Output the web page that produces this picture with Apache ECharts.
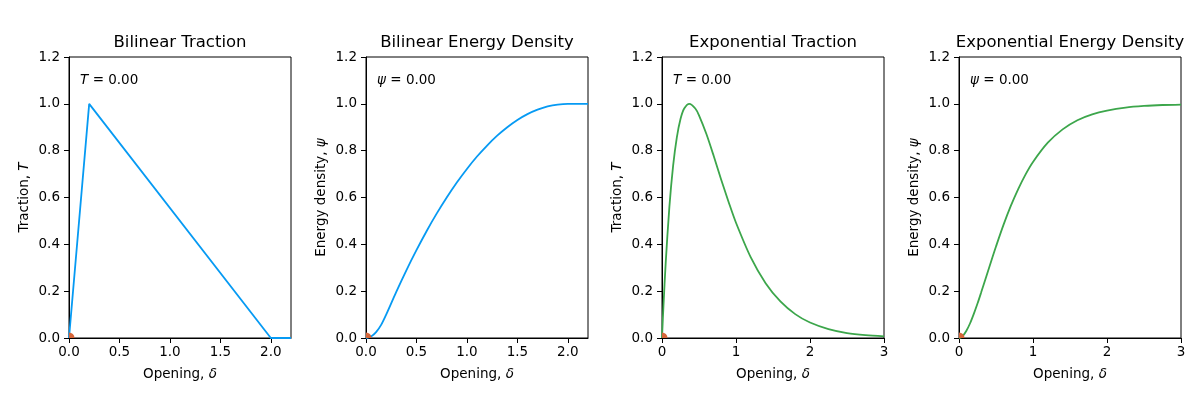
<!DOCTYPE html>
<html><head><meta charset="utf-8">
<script src="https://cdn.jsdelivr.net/npm/echarts@6/dist/echarts.min.js"></script>
<style>html,body{margin:0;padding:0;background:#fff}#c{width:1200px;height:400px}</style>
</head><body><div id="c"></div>
<script>
// ---- data ----
const bilinearDelta = [0, 0.2, 2.0, 2.2];
const bilinearTraction = [0, 1.0, 0, 0];

const bilinearEnergyDelta = [0, 0.05, 0.1, 0.15, 0.2, 0.3, 0.4, 0.5, 0.6, 0.7, 0.8, 0.9, 1.0, 1.1, 1.2, 1.3, 1.4, 1.5, 1.6, 1.7, 1.8, 1.9, 2.0, 2.2];
const bilinearEnergy = [0, 0.006, 0.025, 0.056, 0.1, 0.197, 0.289, 0.375, 0.456, 0.531, 0.6, 0.664, 0.722, 0.775, 0.822, 0.864, 0.9, 0.931, 0.956, 0.975, 0.989, 0.997, 1.0, 1.0];

const expDelta = [0, 0.02, 0.05, 0.1, 0.15, 0.2, 0.25, 0.3, 0.37, 0.45, 0.5, 0.6, 0.7, 0.8, 0.9, 1.0, 1.2, 1.4, 1.6, 1.8, 2.0, 2.25, 2.5, 2.75, 3.0];
const expTraction = [0, 0.139, 0.321, 0.561, 0.735, 0.856, 0.935, 0.980, 1.0, 0.980, 0.951, 0.871, 0.776, 0.676, 0.581, 0.492, 0.344, 0.234, 0.156, 0.102, 0.066, 0.038, 0.021, 0.012, 0.007];
const expEnergy = [0, 0.001, 0.008, 0.031, 0.063, 0.103, 0.147, 0.195, 0.264, 0.343, 0.391, 0.482, 0.564, 0.636, 0.699, 0.752, 0.834, 0.891, 0.930, 0.955, 0.971, 0.984, 0.991, 0.995, 0.997];

const currentPoint = [0, 0];
const currentValueText = "0.00";

const titles = ["Bilinear Traction", "Bilinear Energy Density", "Exponential Traction", "Exponential Energy Density"];
const yNames = ["Traction, {i|T}", "Energy density, {i|ψ}", "Traction, {i|T}", "Energy density, {i|ψ}"];
const annoSymbols = ["T", "ψ", "T", "ψ"];
const xMaxes = [2.2, 2.2, 3, 3];
const xIntervals = [0.5, 0.5, 1, 1];
const xDecimals = [1, 1, 0, 0];
const yTicksMax = 1.2;

// ---- styling / layout ----
const BLUE = '#069AF3', GREEN = '#3ca64b', DOT = '#d6663a';
const FONT = 'DejaVu Sans';
const gridLefts = [69, 366, 662, 959];
const gridW = 222, gridTop = 57, gridH = 281;

const seriesData = [
  [bilinearDelta, bilinearTraction, BLUE],
  [bilinearEnergyDelta, bilinearEnergy, BLUE],
  [expDelta, expTraction, GREEN],
  [expDelta, expEnergy, GREEN]
];

const grids = [], xAxes = [], yAxes = [], series = [], titleOpts = [], graphics = [];
for (let i = 0; i < 4; i++) {
  grids.push({left: gridLefts[i], top: gridTop, width: gridW, height: gridH, show: true,
    borderColor: '#000', borderWidth: 1, backgroundColor: '#fff', containLabel: false});
  const dec = xDecimals[i];
  xAxes.push({type: 'value', gridIndex: i, min: 0, max: xMaxes[i], interval: xIntervals[i],
    axisLine: {show: true, onZero: false, lineStyle: {color: '#000', width: 1}},
    axisTick: {show: true, inside: false, length: 5, lineStyle: {color: '#000'}},
    splitLine: {show: false},
    axisLabel: {showMaxLabel: xMaxes[i] % xIntervals[i] === 0, margin: 7, color: '#000', fontFamily: FONT, fontSize: 13.5,
      formatter: v => v.toFixed(dec)},
    name: 'Opening, {i|δ}', nameLocation: 'middle', nameGap: 29,
    nameTextStyle: {color: '#000', fontFamily: FONT, fontSize: 13.5,
      rich: {i: {fontStyle: 'italic', fontFamily: FONT, fontSize: 13.5, color: '#000'}}}
  });
  yAxes.push({type: 'value', gridIndex: i, min: 0, max: yTicksMax, interval: 0.2,
    axisLine: {show: true, onZero: false, lineStyle: {color: '#000', width: 1}},
    axisTick: {show: true, inside: false, length: 5, lineStyle: {color: '#000'}},
    splitLine: {show: false},
    axisLabel: {margin: 9, color: '#000', fontFamily: FONT, fontSize: 13.5, formatter: v => v.toFixed(1)},
    name: yNames[i], nameLocation: 'middle', nameGap: 38, nameRotate: 90,
    nameTextStyle: {color: '#000', fontFamily: FONT, fontSize: 13.5,
      rich: {i: {fontStyle: 'italic', fontFamily: FONT, fontSize: 13.5, color: '#000'}}}
  });
  const [xs, ys, col] = seriesData[i];
  series.push({type: 'line', xAxisIndex: i, yAxisIndex: i, data: xs.map((x, k) => [x, ys[k]]),
    showSymbol: false, smooth: (i === 0 ? false : 0.3), lineStyle: {color: col, width: 1.8}, clip: true, z: 2});
  series.push({type: 'custom', xAxisIndex: i, yAxisIndex: i, data: [currentPoint], clip: true, z: 5,
    renderItem: (params, api) => {
      const p = api.coord([api.value(0), api.value(1)]);
      return {type: 'circle', shape: {cx: p[0], cy: p[1], r: 5.5}, style: {fill: DOT}};
    }});
  titleOpts.push({text: titles[i], left: gridLefts[i] + gridW / 2, top: 34, padding: 0, textAlign: 'center',
    textStyle: {color: '#000', fontFamily: FONT, fontSize: 16.5, fontWeight: 'normal'}});
  graphics.push({type: 'text', left: gridLefts[i] + gridW * 0.05, top: gridTop + 16,
    style: {text: '{i|' + annoSymbols[i] + '} = ' + currentValueText, fill: '#000', font: '13.5px "DejaVu Sans"',
      rich: {i: {fontStyle: 'italic', fontFamily: FONT, fontSize: 13.5, fill: '#000'}}}});
}

const chart = echarts.init(document.getElementById('c'), null, {renderer: 'canvas'});
chart.setOption({
  backgroundColor: '#fff', animation: false,
  title: titleOpts, grid: grids, xAxis: xAxes, yAxis: yAxes, series: series, graphic: graphics
});
</script></body></html>
